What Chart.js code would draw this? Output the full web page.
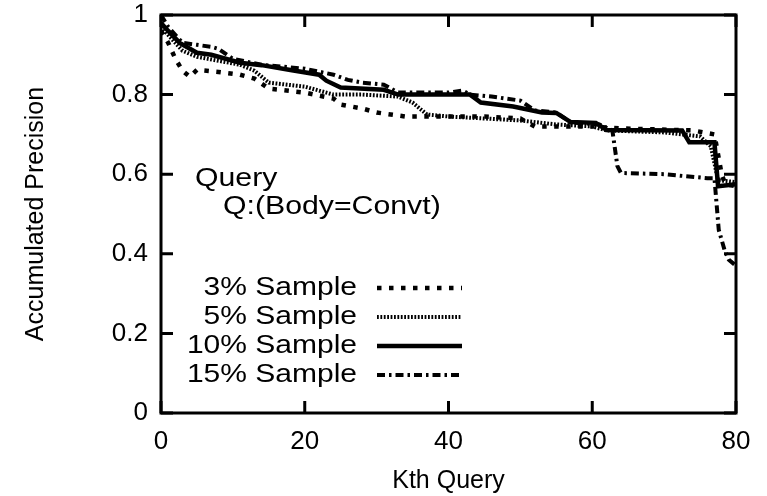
<!DOCTYPE html>
<html>
<head>
<meta charset="utf-8">
<script src="https://cdn.jsdelivr.net/npm/chart.js@4.4.1/dist/chart.umd.min.js"></script>
<style>
  html, body { margin: 0; padding: 0; background: #fff; }
</style>
</head>
<body>
<canvas id="myChart" width="767" height="496"></canvas>
<script>
const kthTicks = [0, 20, 40, 60, 80];
const precisionTicks = [0, 0.2, 0.4, 0.6, 0.8, 1];
const sampleNames = ['3% Sample', '5% Sample', '10% Sample', '15% Sample'];

// 3% sample
const k3 = [0, 1, 2, 3, 4, 5, 8, 11, 13, 15, 20, 24, 25, 28, 30, 34, 45, 50, 52, 60, 64, 74, 77, 78, 78.5, 80];
const p3 = [0.96, 0.93, 0.89, 0.86, 0.845, 0.862, 0.857, 0.85, 0.84, 0.815, 0.805, 0.79, 0.775, 0.765, 0.755, 0.745, 0.745, 0.74, 0.72, 0.72, 0.715, 0.71, 0.70, 0.60, 0.575, 0.57];

// 5% sample
const k5 = [0, 1, 3, 5, 8, 11, 13, 15, 20, 24, 28, 33, 35, 37, 40, 45, 50, 55, 60, 62, 70, 75, 76.5, 77.5, 80];
const p5 = [0.97, 0.95, 0.91, 0.895, 0.885, 0.875, 0.86, 0.83, 0.82, 0.80, 0.80, 0.795, 0.78, 0.75, 0.745, 0.74, 0.735, 0.725, 0.72, 0.71, 0.705, 0.695, 0.67, 0.585, 0.58];

// 10% sample
const k10 = [0, 1, 2.6, 5, 7, 11, 14, 18, 22, 23, 25, 31, 33, 43, 44.5, 49, 53, 55, 57, 60.5, 62, 72.5, 73.5, 77, 77.5, 80];
const p10 = [0.98, 0.96, 0.93, 0.905, 0.90, 0.88, 0.874, 0.862, 0.85, 0.835, 0.818, 0.812, 0.80, 0.80, 0.78, 0.77, 0.755, 0.754, 0.731, 0.729, 0.711, 0.71, 0.68, 0.68, 0.57, 0.575];

// 15% sample
const k15 = [0, 1, 3, 5, 7, 8, 10, 14, 20, 24, 26, 28, 31, 33, 40, 42, 43, 46, 50, 52, 55, 57, 61, 62.8, 63.5, 64, 70, 76, 77, 77.6, 78.4, 79, 80];
const p15 = [1.0, 0.97, 0.93, 0.925, 0.92, 0.915, 0.89, 0.875, 0.865, 0.85, 0.837, 0.83, 0.825, 0.805, 0.805, 0.81, 0.80, 0.795, 0.785, 0.76, 0.755, 0.73, 0.725, 0.71, 0.62, 0.603, 0.60, 0.59, 0.59, 0.46, 0.41, 0.385, 0.37];

const FONT = 'Liberation Sans, Arial, Helvetica, sans-serif';

function pts(xs, ys) {
  return xs.map((x, i) => ({ x: x, y: ys[i] }));
}

function lineSet(label, xs, ys, width, dash) {
  return {
    label: label,
    data: pts(xs, ys),
    borderColor: '#000',
    borderWidth: width,
    borderDash: dash,
    borderCapStyle: 'butt',
    borderJoinStyle: 'miter',
    pointRadius: 0,
    tension: 0,
    fill: false
  };
}

// frame with inward ticks, legend and the query note
const decorations = {
  id: 'decorations',
  afterDatasetsDraw(chart) {
    const { ctx, chartArea: a, scales: { x, y } } = chart;
    ctx.save();
    ctx.strokeStyle = '#000';
    ctx.lineWidth = 3;
    ctx.setLineDash([]);
    ctx.strokeRect(a.left, a.top, a.right - a.left, a.bottom - a.top);
    ctx.beginPath();
    kthTicks.forEach(v => {
      const px = x.getPixelForValue(v);
      ctx.moveTo(px, a.bottom); ctx.lineTo(px, a.bottom - 12);
      ctx.moveTo(px, a.top); ctx.lineTo(px, a.top + 12);
    });
    precisionTicks.forEach(v => {
      const py = y.getPixelForValue(v);
      ctx.moveTo(a.left, py); ctx.lineTo(a.left + 12, py);
      ctx.moveTo(a.right, py); ctx.lineTo(a.right - 12, py);
    });
    ctx.stroke();

    ctx.fillStyle = '#000';
    ctx.font = '25px ' + FONT;
    ctx.textBaseline = 'middle';

    const note = [['Query', 195, 179], ['Q:(Body=Convt)', 223, 207]];
    note.forEach(([t, tx, ty]) => {
      ctx.save();
      ctx.translate(tx, ty);
      ctx.scale(1.21, 1);
      ctx.textAlign = 'left';
      ctx.fillText(t, 0, 0);
      ctx.restore();
    });

    const rows = [288, 317, 346, 375];
    chart.data.datasets.forEach((ds, i) => {
      ctx.save();
      ctx.translate(357, rows[i]);
      ctx.scale(1.2, 1);
      ctx.textAlign = 'right';
      ctx.fillText(ds.label, 0, 0);
      ctx.restore();

      ctx.save();
      ctx.lineWidth = ds.borderWidth;
      ctx.lineCap = 'butt';
      ctx.setLineDash(ds.borderDash);
      ctx.beginPath();
      ctx.moveTo(377, rows[i]);
      ctx.lineTo(462, rows[i]);
      ctx.stroke();
      ctx.restore();
    });
    ctx.restore();
  }
};

const ctx = document.getElementById('myChart').getContext('2d');

new Chart(ctx, {
  type: 'line',
  data: {
    datasets: [
      lineSet(sampleNames[0], k3, p3, 4.5, [4.5, 7.5]),
      lineSet(sampleNames[1], k5, p5, 4, [1.8, 1.6]),
      lineSet(sampleNames[2], k10, p10, 4.5, []),
      lineSet(sampleNames[3], k15, p15, 4, [8, 4, 2.5, 4])
    ]
  },
  options: {
    responsive: false,
    animation: false,
    layout: { padding: { top: 15, right: 31, left: 0, bottom: 0 } },
    plugins: {
      legend: { display: false },
      tooltip: { enabled: false }
    },
    scales: {
      x: {
        type: 'linear',
        min: 0,
        max: 80,
        afterFit: s => { s.height = 83; s.paddingLeft = 0; s.paddingRight = 0; },
        afterBuildTicks: s => { s.ticks = kthTicks.map(v => ({ value: v })); },
        grid: { display: false, drawTicks: false },
        border: { display: false },
        ticks: { color: '#000', padding: 13, maxRotation: 0, font: { family: FONT, size: 26 } },
        title: {
          display: true,
          text: 'Kth Query',
          color: '#000',
          padding: { top: 0, bottom: 0 },
          font: { family: FONT, size: 25 }
        }
      },
      y: {
        min: 0,
        max: 1,
        afterFit: s => { s.width = 161; s.paddingTop = 0; s.paddingBottom = 0; },
        afterBuildTicks: s => { s.ticks = precisionTicks.map(v => ({ value: v })); },
        grid: { display: false, drawTicks: false },
        border: { display: false },
        ticks: {
          color: '#000',
          padding: 13,
          font: { family: FONT, size: 26 },
          callback: v => String(v)
        },
        title: {
          display: true,
          text: 'Accumulated Precision',
          color: '#000',
          padding: { top: 21, bottom: 0 },
          font: { family: FONT, size: 25 }
        }
      }
    }
  },
  plugins: [decorations]
});
</script>
</body>
</html>
